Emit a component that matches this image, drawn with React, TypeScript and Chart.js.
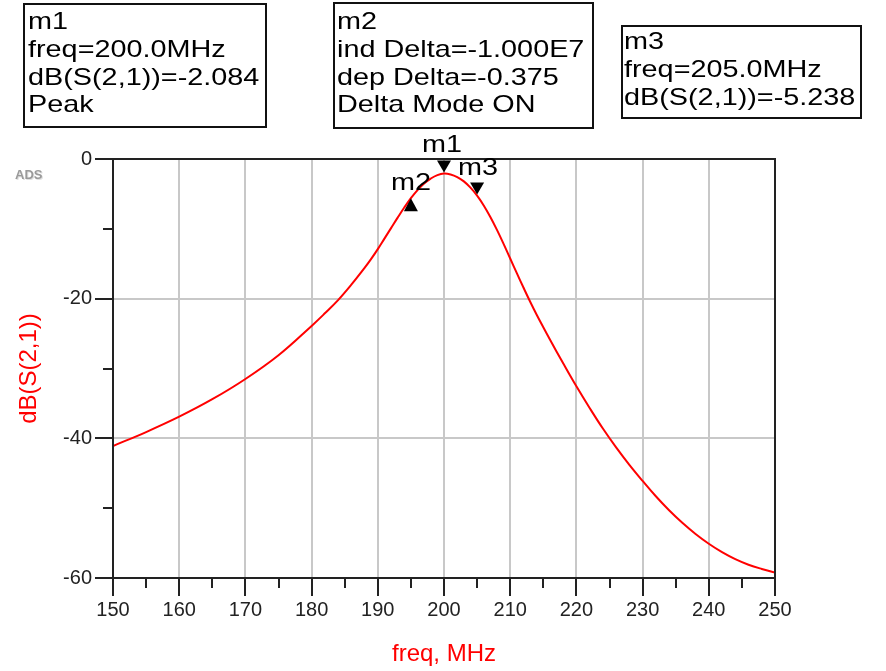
import React, { useEffect, useRef } from 'react';
import { Chart, registerables } from 'chart.js';
Chart.register(...registerables);

// ---- data ----
const freqMHz = [150, 155, 160, 165, 170, 175, 180, 182, 184, 186, 188, 189, 190, 191, 192, 193, 194, 195, 196, 197, 198, 199, 200, 201, 202, 203, 204, 205, 206, 207, 208, 209, 210, 211, 212, 213, 214, 215, 216, 218, 220, 222, 224, 226, 228, 230, 232, 234, 236, 238, 240, 242, 244, 246, 248, 250];
const s21dB = [-41.1, -39.1, -36.9, -34.4, -31.5, -28.1, -23.9, -22.1, -20.2, -18.0, -15.6, -14.3, -12.9, -11.4, -9.9, -8.4, -6.95, -5.61, -4.45, -3.5, -2.8, -2.3, -2.08, -2.21, -2.58, -3.2, -4.1, -5.24, -6.65, -8.3, -10.15, -12.15, -14.25, -16.35, -18.4, -20.4, -22.3, -24.1, -25.85, -29.25, -32.55, -35.65, -38.6, -41.3, -43.8, -46.1, -48.3, -50.3, -52.1, -53.7, -55.1, -56.3, -57.3, -58.1, -58.7, -59.2];

const markerNames = ['m1', 'm2', 'm3'];
const markerFreq = [200, 195, 205];
const markerDb = [-2.084, -5.613, -5.238];
const markerPointsDown = [true, false, true];

const box1Lines = ['m1', 'freq=200.0MHz', 'dB(S(2,1))=-2.084', 'Peak'];
const box2Lines = ['m2', 'ind Delta=-1.000E7', 'dep Delta=-0.375', 'Delta Mode ON'];
const box3Lines = ['m3', 'freq=205.0MHz', 'dB(S(2,1))=-5.238'];

const xTitle = 'freq, MHz';
const yTitle = 'dB(S(2,1))';
const xMin = 150, xMax = 250, xMajor = 10, xMinor = 5;
const yMin = -60, yMax = 0, yMajor = 20, yMinor = 10;

const FONT = "'Liberation Sans', Arial, sans-serif";

function stretchText(ctx: CanvasRenderingContext2D, text: string, x: number, y: number, sx: number, align: 'left' | 'center') {
  ctx.save();
  ctx.translate(x, y);
  ctx.scale(sx, 1);
  ctx.textAlign = align;
  ctx.textBaseline = 'alphabetic';
  ctx.fillText(text, 0, 0);
  ctx.restore();
}

const adsPlugin = {
  id: 'adsDecor',
  beforeDraw(chart: any) {
    const ctx = chart.ctx;
    ctx.save();
    ctx.fillStyle = '#fff';
    ctx.fillRect(0, 0, chart.width, chart.height);
    ctx.restore();
  },
  afterDatasetsDraw(chart: any) {
    const ctx: CanvasRenderingContext2D = chart.ctx;
    const xs = chart.scales.x, ys = chart.scales.y;
    const ca = chart.chartArea;
    ctx.save();
    // frame
    ctx.strokeStyle = '#222';
    ctx.lineWidth = 2;
    ctx.strokeRect(ca.left, ca.top, ca.right - ca.left, ca.bottom - ca.top);
    // tick marks
    ctx.beginPath();
    for (let v = xMin; v <= xMax + 1e-9; v += xMinor) {
      const px = Math.round(xs.getPixelForValue(v));
      const len = Math.abs(v % xMajor) < 1e-9 ? 18 : 10;
      ctx.moveTo(px, ca.bottom);
      ctx.lineTo(px, ca.bottom + len);
    }
    for (let v = yMin; v <= yMax + 1e-9; v += yMinor) {
      const py = Math.round(ys.getPixelForValue(v));
      const len = Math.abs(v % yMajor) < 1e-9 ? 18 : 10;
      ctx.moveTo(ca.left, py);
      ctx.lineTo(ca.left - len, py);
    }
    ctx.stroke();

    // markers
    ctx.fillStyle = '#000';
    ctx.font = `24px ${FONT}`;
    markerNames.forEach((name, i) => {
      const px = xs.getPixelForValue(markerFreq[i]);
      const py = ys.getPixelForValue(markerDb[i]);
      ctx.beginPath();
      if (markerPointsDown[i]) {
        ctx.moveTo(px, py - 1);
        ctx.lineTo(px - 7, py - 13);
        ctx.lineTo(px + 7, py - 13);
      } else {
        ctx.moveTo(px, py);
        ctx.lineTo(px - 7, py + 13);
        ctx.lineTo(px + 7, py + 13);
      }
      ctx.closePath();
      ctx.fill();
      if (i === 0) stretchText(ctx, name, px - 2, py - 22, 1.2, 'center');
      else if (i === 1) stretchText(ctx, name, px, py - 8, 1.2, 'center');
      else stretchText(ctx, name, px - 19, py - 21, 1.2, 'left');
    });

    // marker readout boxes
    const boxes = [
      { lines: box1Lines, x: 24, y: 4, w: 242, h: 123, tx: 28, b0: 29 },
      { lines: box2Lines, x: 334, y: 3, w: 259, h: 125, tx: 337, b0: 29 },
      { lines: box3Lines, x: 622, y: 26, w: 239, h: 92, tx: 624, b0: 49 },
    ];
    ctx.font = `24px ${FONT}`;
    boxes.forEach((b) => {
      ctx.fillStyle = '#fff';
      ctx.fillRect(b.x, b.y, b.w, b.h);
      ctx.strokeStyle = '#111';
      ctx.lineWidth = 2;
      ctx.strokeRect(b.x, b.y, b.w, b.h);
      ctx.fillStyle = '#000';
      b.lines.forEach((t, j) => stretchText(ctx, t, b.tx, b.b0 + j * 27.8, 1.2, 'left'));
    });

    // ADS logo text
    ctx.font = `bold 13px ${FONT}`;
    ctx.fillStyle = '#e0e0e0';
    ctx.textAlign = 'left';
    ctx.textBaseline = 'alphabetic';
    ctx.fillText('ADS', 16, 180);
    ctx.fillStyle = '#9a9a9a';
    ctx.fillText('ADS', 15, 179);
    ctx.restore();
  },
};

export default function App() {
  const ref = useRef<HTMLCanvasElement>(null);
  useEffect(() => {
    if (!ref.current) return;
    const chart = new Chart(ref.current, {
      type: 'line',
      data: {
        datasets: [
          {
            label: yTitle,
            data: freqMHz.map((f, i) => ({ x: f, y: s21dB[i] })),
            borderColor: '#ff0000',
            borderWidth: 2,
            pointRadius: 0,
            tension: 0.4,
            fill: false,
          },
        ],
      },
      options: {
        animation: false,
        responsive: false,
        maintainAspectRatio: false,
        layout: { padding: { top: 159, right: 111, left: 0, bottom: 0 } },
        plugins: { legend: { display: false }, tooltip: { enabled: false }, title: { display: false } },
        scales: {
          x: {
            type: 'linear',
            min: xMin,
            max: xMax,
            afterFit: (s: any) => { s.height = 93; },
            border: { display: false },
            grid: {
              drawTicks: false,
              lineWidth: 2,
              color: (c: any) => (c.tick && c.tick.value > xMin && c.tick.value < xMax ? '#c8c8c8' : 'rgba(0,0,0,0)'),
            },
            ticks: { stepSize: xMajor, padding: 20, color: '#222', font: { family: FONT, size: 20 }, maxRotation: 0 },
            title: { display: true, text: xTitle, color: '#ff0000', font: { family: FONT, size: 24 }, padding: { top: 0, bottom: 2 } },
          },
          y: {
            type: 'linear',
            min: yMin,
            max: yMax,
            afterFit: (s: any) => { s.width = 113; },
            border: { display: false },
            grid: {
              drawTicks: false,
              lineWidth: 2,
              color: (c: any) => (c.tick && c.tick.value > yMin && c.tick.value < yMax ? '#c8c8c8' : 'rgba(0,0,0,0)'),
            },
            ticks: { stepSize: yMajor, padding: 21, color: '#222', font: { family: FONT, size: 20 } },
            title: { display: true, text: yTitle, color: '#ff0000', font: { family: FONT, size: 24 }, padding: { top: 15, bottom: 0 } },
          },
        },
      } as any,
      plugins: [adsPlugin],
    });
    return () => chart.destroy();
  }, []);
  return (
    <div style={{ position: 'fixed', left: 0, top: 0, width: 886, height: 671, background: '#fff' }}>
      <canvas ref={ref} width={886} height={671} style={{ display: 'block', width: 886, height: 671 }} />
    </div>
  );
}
